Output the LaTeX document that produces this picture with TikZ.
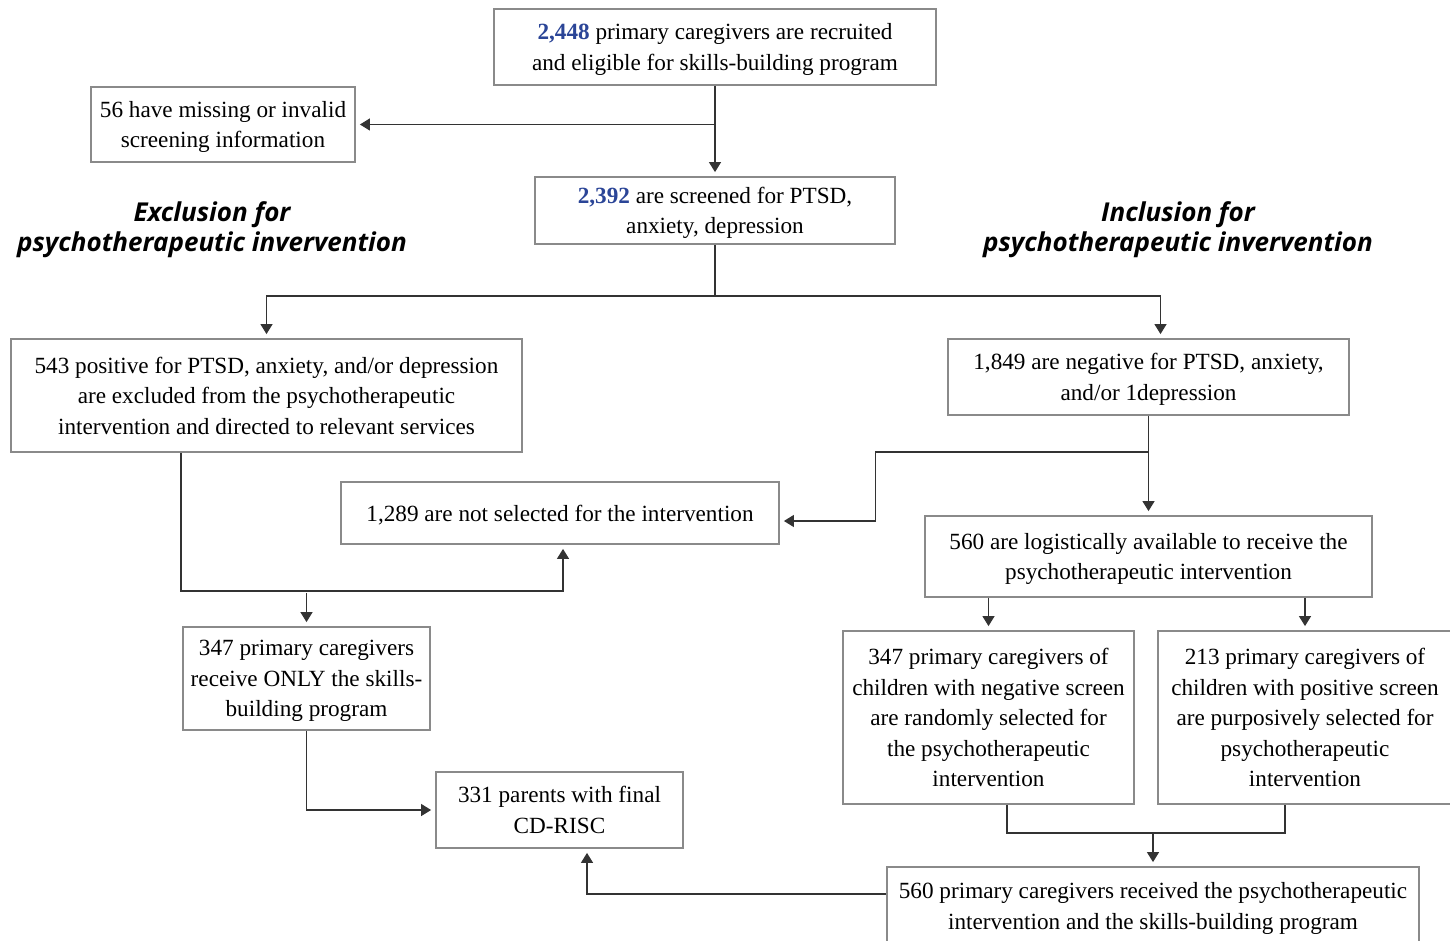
\documentclass[tikz,border=0pt]{standalone}
\usepackage{fontspec}
\setmainfont{Liberation Serif}
\newfontfamily\headfont{Open Sans}
\usetikzlibrary{arrows.meta}
\definecolor{numblue}{HTML}{2B4597}
\definecolor{boxgray}{HTML}{8A8A8A}
\definecolor{linegray}{HTML}{333333}
\newcommand{\num}[1]{\textcolor{numblue}{\textbf{#1}}}
\begin{document}
\begin{tikzpicture}[x=0.5pt, y=-0.5pt,
  box/.style={draw=boxgray, line width=0.9pt, align=center, inner sep=0pt, text depth=0pt,
    font=\fontsize{11.6}{15.25}\selectfont},
  head/.style={align=center, font=\headfont\bfseries\itshape\fontsize{13}{15}\selectfont},
  link/.style={draw=linegray, line width=0.6pt},
  arr/.style={link, -{Triangle[width=6pt,length=5pt]}, shorten >=2pt}]
\useasboundingbox (0,0) rectangle (1450,941);
\node[box, minimum width=221pt, minimum height=38pt] (top) at (715,47)
  {\num{2,448} primary caregivers are recruited\\and eligible for skills-building program};
\node[box, minimum width=132pt, minimum height=37.5pt] (miss) at (223,124.5)
  {56 have missing or invalid\\screening information};
\node[box, minimum width=180pt, minimum height=33.5pt] (scr) at (715,210.5)
  {\num{2,392} are screened for PTSD,\\anxiety, depression};
\node[head] (exclhead) at (212,230) {Exclusion for\\psychotherapeutic invervention};
\node[head] (inclhead) at (1178,230) {Inclusion for\\psychotherapeutic invervention};
\node[box, minimum width=255.5pt, minimum height=56.5pt] (pos) at (266.5,395.5)
  {543 positive for PTSD, anxiety, and/or depression\\are excluded from the psychotherapeutic\\intervention and directed to relevant services};
\node[box, minimum width=200.5pt, minimum height=38pt] (neg) at (1148.5,377)
  {1,849 are negative for PTSD, anxiety,\\and/or 1depression};
\node[box, minimum width=219pt, minimum height=31pt] (notsel) at (560,513)
  {1,289 are not selected for the intervention};
\node[box, minimum width=223.5pt, minimum height=40.5pt] (avail) at (1148.5,556.5)
  {560 are logistically available to receive the\\psychotherapeutic intervention};
\node[box, minimum width=123.5pt, minimum height=51.5pt] (only) at (306.5,678.5)
  {347 primary caregivers\\receive ONLY the skills-\\building program};
\node[box, minimum width=145.5pt, minimum height=86.5pt] (neg347) at (988.5,717.5)
  {347 primary caregivers of\\children with negative screen\\are randomly selected for\\the psychotherapeutic\\intervention};
\node[box, minimum width=147pt, minimum height=86.5pt] (pos213) at (1305,717.5)
  {213 primary caregivers of\\children with positive screen\\are purposively selected for\\psychotherapeutic\\intervention};
\node[box, minimum width=123.5pt, minimum height=38pt] (final) at (559.5,810)
  {331 parents with final\\CD-RISC};
\node[box, minimum width=266pt, minimum height=39pt] (recv) at (1153,906)
  {560 primary caregivers received the psychotherapeutic\\intervention and the skills-building program};
\draw[arr] (top) -- (scr);
\draw[arr] (top.south |- miss.east) -- (miss.east);
\draw[link] (scr.south) -- ++(0,51) coordinate (split);
\draw[arr] (split) -| (pos.north);
\draw[arr] (split) -| ([xshift=6pt]neg.north);
\draw[arr] (neg.south) -- ++(0,36) -- ++(-273,0) |- ([yshift=-4pt]notsel.east);
\draw[arr] (neg.south) -- (avail.north);
\draw[arr] ([xshift=-42.75pt]pos.south) -- ++(0,138) coordinate (bend) -| ([xshift=1.5pt]notsel.south);
\draw[arr] ([yshift=-1pt]bend -| only.north) -- (only.north);
\draw[arr] (avail.south -| neg347.north) -- (neg347.north);
\draw[arr] (avail.south -| pos213.north) -- (pos213.north);
\draw[link] ([xshift=9.25pt]neg347.south) -- ++(0,28) coordinate (join) -| ([xshift=-10pt]pos213.south);
\draw[arr] (join -| recv.north) -- (recv.north);
\draw[arr] (only.south) |- (final.west);
\draw[arr] ([yshift=6pt]recv.west) -| ([xshift=13.75pt]final.south);
\end{tikzpicture}
\end{document}
